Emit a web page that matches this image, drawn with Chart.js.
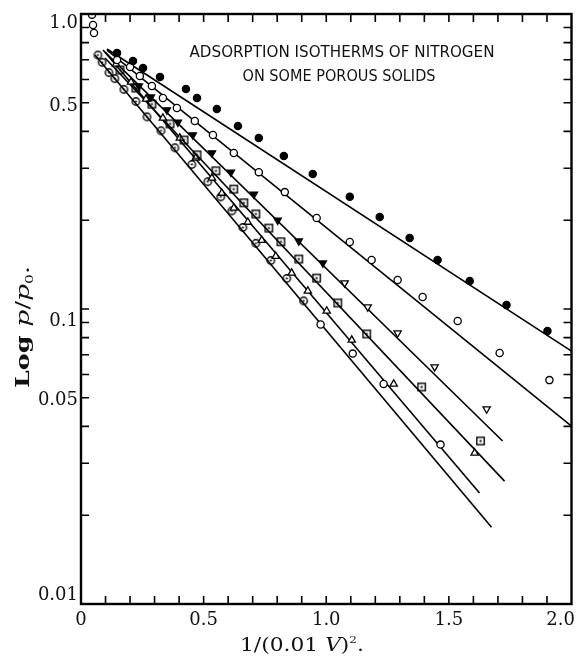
<!DOCTYPE html>
<html>
<head>
<meta charset="utf-8">
<script src="https://cdn.jsdelivr.net/npm/chart.js@4/dist/chart.umd.min.js"></script>
<style>
  html, body { margin: 0; padding: 0; background: #fff; }
  canvas { display: block; }
</style>
</head>
<body>
<canvas id="chart" width="577" height="659"></canvas>
<script>
// Axis ticks
const yTickValues = [0.01, 0.02, 0.03, 0.04, 0.05, 0.06, 0.07, 0.08, 0.09, 0.1,
  0.2, 0.3, 0.4, 0.5, 0.6, 0.7, 0.8, 0.9, 1.0];
const yLabelValues = [1.0, 0.5, 0.1, 0.05, 0.01];
const yLabelTexts = ['1.0', '0.5', '0.1', '0.05', '0.01'];
const xTickValues = [0, 0.5, 1, 1.5, 2];
const xTickLabels = ['0', '0.5', '1.0', '1.5', '2.0'];

// Measured points, x = 1/(0.01 V)^2, y = log p/p0
const filledX = [0.147, 0.212, 0.253, 0.322, 0.428, 0.473, 0.554, 0.640, 0.725, 0.827, 0.945, 1.096, 1.218, 1.340, 1.454, 1.585, 1.735, 1.902];
const filledY = [0.738, 0.693, 0.656, 0.612, 0.557, 0.519, 0.476, 0.417, 0.380, 0.330, 0.287, 0.240, 0.205, 0.174, 0.1466, 0.1244, 0.1032, 0.0842];

const openX = [0.147, 0.200, 0.240, 0.289, 0.334, 0.391, 0.464, 0.538, 0.623, 0.725, 0.831, 0.961, 1.096, 1.185, 1.291, 1.393, 1.536, 1.707, 1.910];
const openY = [0.698, 0.661, 0.616, 0.570, 0.519, 0.480, 0.434, 0.389, 0.338, 0.291, 0.249, 0.2035, 0.1687, 0.1466, 0.1254, 0.1098, 0.0911, 0.0709, 0.0574];

const downTriX = [0.236, 0.285, 0.350, 0.395, 0.456, 0.534, 0.611, 0.705, 0.802, 0.888, 0.986, 1.075, 1.169, 1.291, 1.442, 1.654];
const downTriY = [0.570, 0.523, 0.473, 0.430, 0.389, 0.338, 0.291, 0.245, 0.200, 0.170, 0.1432, 0.1225, 0.1016, 0.0829, 0.0636, 0.0458];

const squareX = [0.159, 0.224, 0.289, 0.363, 0.420, 0.473, 0.550, 0.623, 0.664, 0.713, 0.766, 0.815, 0.888, 0.961, 1.047, 1.165, 1.389, 1.629];
const squareY = [0.646, 0.561, 0.495, 0.424, 0.374, 0.333, 0.294, 0.255, 0.229, 0.210, 0.188, 0.169, 0.1477, 0.1273, 0.1048, 0.0823, 0.0544, 0.0357];

const triX = [0.143, 0.204, 0.265, 0.334, 0.403, 0.468, 0.534, 0.574, 0.623, 0.680, 0.737, 0.794, 0.859, 0.925, 1.002, 1.104, 1.275, 1.605];
const triY = [0.677, 0.588, 0.515, 0.444, 0.380, 0.325, 0.278, 0.247, 0.220, 0.197, 0.171, 0.151, 0.1324, 0.1151, 0.0985, 0.0785, 0.0557, 0.0325];

const dotCircX = [0.069, 0.086, 0.114, 0.138, 0.175, 0.224, 0.269, 0.326, 0.383, 0.452, 0.517, 0.570, 0.615, 0.660, 0.713, 0.774, 0.839, 0.908];
const dotCircY = [0.726, 0.686, 0.633, 0.604, 0.555, 0.505, 0.448, 0.402, 0.352, 0.309, 0.270, 0.240, 0.215, 0.189, 0.167, 0.146, 0.127, 0.1065];

const lowOpenX = [0.977, 1.108, 1.234, 1.466];
const lowOpenY = [0.0886, 0.0706, 0.0557, 0.0347];

// the stacked circles near p/p0 = 1 at the top left
const topOpenX = [0.045, 0.049, 0.053];
const topOpenY = [0.995, 0.918, 0.862];

// straight lines drawn through each set: [x0, x1], [y0, y1]
const lineAX = [0.106, 2.0], lineAY = [0.761, 0.072];
const lineBX = [0.106, 2.0], lineBY = [0.755, 0.0401];
const lineCX = [0.098, 1.719], lineCY = [0.743, 0.0357];
const lineDX = [0.098, 1.727], lineDY = [0.709, 0.0261];
const lineEX = [0.090, 1.625], lineEY = [0.755, 0.0238];
const lineFX = [0.057, 1.674], lineFY = [0.726, 0.0182];

const pts = (xs, ys) => xs.map((x, i) => ({ x: x, y: ys[i] }));

function marker(kind) {
  const c = document.createElement('canvas');
  c.width = 11; c.height = 11;
  const g = c.getContext('2d');
  g.strokeStyle = '#000'; g.fillStyle = '#000'; g.lineWidth = 1.4;
  if (kind === 'dotcircle') {
    g.beginPath(); g.arc(5.5, 5.5, 3.7, 0, Math.PI * 2); g.stroke();
    g.beginPath(); g.arc(5.5, 5.5, 1.1, 0, Math.PI * 2); g.fill();
  } else if (kind === 'dotsquare') {
    g.strokeRect(1.8, 1.8, 7.4, 7.4);
    g.fillRect(4.5, 4.5, 2, 2);
  }
  return c;
}
const dotCircle = marker('dotcircle');
const dotSquare = marker('dotsquare');

function lineSet(xs, ys) {
  return { type: 'line', data: pts(xs, ys), borderColor: '#000', borderWidth: 1.6,
    pointRadius: 0, fill: false, order: 2 };
}
function pointSet(xs, ys, extra) {
  return Object.assign({ type: 'scatter', data: pts(xs, ys), borderColor: '#000',
    backgroundColor: '#fff', borderWidth: 1.3, pointRadius: 3.6, order: 1 }, extra);
}

const serif = '"DejaVu Serif", "Liberation Serif", serif';
// the printed labels sit a little off their ticks
const yLabelNudge = [9, 4, 12, 3, -9];

// draws text pieces [text, font, rise] in a row, squeezed to a given width
function drawRun(ctx, parts, x0, y0, width) {
  let w = 0;
  parts.forEach(p => { ctx.font = p[1]; w += ctx.measureText(p[0]).width; });
  ctx.save();
  ctx.translate(x0, y0);
  ctx.scale(width / w, 1);
  let x = 0;
  parts.forEach(p => { ctx.font = p[1]; ctx.fillText(p[0], x, p[2] || 0); x += ctx.measureText(p[0]).width; });
  ctx.restore();
}

const frame = {
  id: 'frame',
  afterDraw(chart) {
    const { ctx, chartArea: a, scales } = chart;
    const xs = scales.x, ys = scales.y;
    ctx.save();
    ctx.strokeStyle = '#000';
    ctx.lineWidth = 2.4;
    ctx.strokeRect(a.left, a.top, a.right - a.left, a.bottom - a.top);
    ctx.lineWidth = 1.6;
    ctx.beginPath();
    yTickValues.forEach(v => {
      const py = ys.getPixelForValue(v);
      ctx.moveTo(a.left, py); ctx.lineTo(a.left + 8, py);
      ctx.moveTo(a.right, py); ctx.lineTo(a.right - 8, py);
    });
    for (let i = 1; i < 20; i++) {
      const px = xs.getPixelForValue(i / 10);
      ctx.moveTo(px, a.bottom); ctx.lineTo(px, a.bottom - 8);
      ctx.moveTo(px, a.top); ctx.lineTo(px, a.top + 8);
    }
    ctx.stroke();

    ctx.fillStyle = '#111';
    ctx.font = '18px ' + serif;
    ctx.textBaseline = 'middle';

    // y tick labels
    ctx.textAlign = 'right';
    yLabelValues.forEach((v, i) => {
      ctx.fillText(yLabelTexts[i], a.left - 3, ys.getPixelForValue(v) + yLabelNudge[i]);
    });

    // x tick labels, last one kept inside the page
    ctx.textAlign = 'center';
    xTickValues.forEach((v, i) => {
      const px = xs.getPixelForValue(v);
      const tw = ctx.measureText(xTickLabels[i]).width;
      ctx.fillText(xTickLabels[i], Math.min(px, chart.width - 2 - tw / 2), a.bottom + 16);
    });

    // inset caption
    ctx.font = '15px "DejaVu Sans Condensed", "Liberation Sans Narrow", sans-serif';
    const fit = (t, w, x, y) => {
      const m = ctx.measureText(t).width;
      ctx.save(); ctx.translate(x, y); ctx.scale(w / m, 1.05); ctx.fillText(t, 0, 0); ctx.restore();
    };
    fit('ADSORPTION ISOTHERMS OF NITROGEN', 305, 342, 53);
    fit('ON SOME POROUS SOLIDS', 193, 339, 77);

    // x title: 1/(0.01 V)².
    ctx.textAlign = 'left';
    ctx.textBaseline = 'alphabetic';
    drawRun(ctx, [['1/(0.01 ', '18px ' + serif], ['V', 'italic 18px ' + serif], [')', '18px ' + serif],
      ['2', '10px ' + serif, -8], ['.', '18px ' + serif]], 240, 651, 124);

    // y title: Log p/p0.
    ctx.save();
    ctx.translate(29, 388);
    ctx.rotate(-Math.PI / 2);
    drawRun(ctx, [['Log ', 'bold 18px ' + serif], ['p', 'italic 19px ' + serif], ['/', '18px ' + serif],
      ['p', 'italic 19px ' + serif], ['0', '11px ' + serif, 4], ['.', '18px ' + serif]], 0, 0, 122);
    ctx.restore();
    ctx.restore();
  }
};

new Chart(document.getElementById('chart'), {
  type: 'scatter',
  data: {
    datasets: [
      lineSet(lineAX, lineAY), lineSet(lineBX, lineBY), lineSet(lineCX, lineCY),
      lineSet(lineDX, lineDY), lineSet(lineEX, lineEY), lineSet(lineFX, lineFY),
      pointSet(filledX, filledY, { backgroundColor: '#000' }),
      pointSet(openX, openY),
      pointSet(downTriX, downTriY, { pointStyle: 'triangle', rotation: 180, pointRadius: 4.2,
        backgroundColor: c => (c.raw && c.raw.x < 1.0 ? '#000' : '#fff') }),
      pointSet(squareX, squareY, { pointStyle: dotSquare }),
      pointSet(triX, triY, { pointStyle: 'triangle', pointRadius: 4.2 }),
      pointSet(dotCircX, dotCircY, { pointStyle: dotCircle }),
      pointSet(lowOpenX, lowOpenY),
      pointSet(topOpenX, topOpenY)
    ]
  },
  options: {
    responsive: false,
    animation: false,
    devicePixelRatio: 1,
    layout: { padding: { left: 0, top: 14, right: 5, bottom: 0 } },
    plugins: { legend: { display: false }, tooltip: { enabled: false } },
    scales: {
      x: {
        type: 'linear', min: 0, max: 2,
        grid: { display: false }, border: { display: false },
        afterFit: s => { s.height = 55; s.paddingLeft = 0; s.paddingRight = 0; },
        ticks: { display: false }
      },
      y: {
        type: 'logarithmic', min: 0.01, max: 1.0,
        grid: { display: false }, border: { display: false },
        afterFit: s => { s.width = 81; s.paddingTop = 0; s.paddingBottom = 0; },
        ticks: { display: false }
      }
    }
  },
  plugins: [frame]
});
</script>
</body>
</html>
